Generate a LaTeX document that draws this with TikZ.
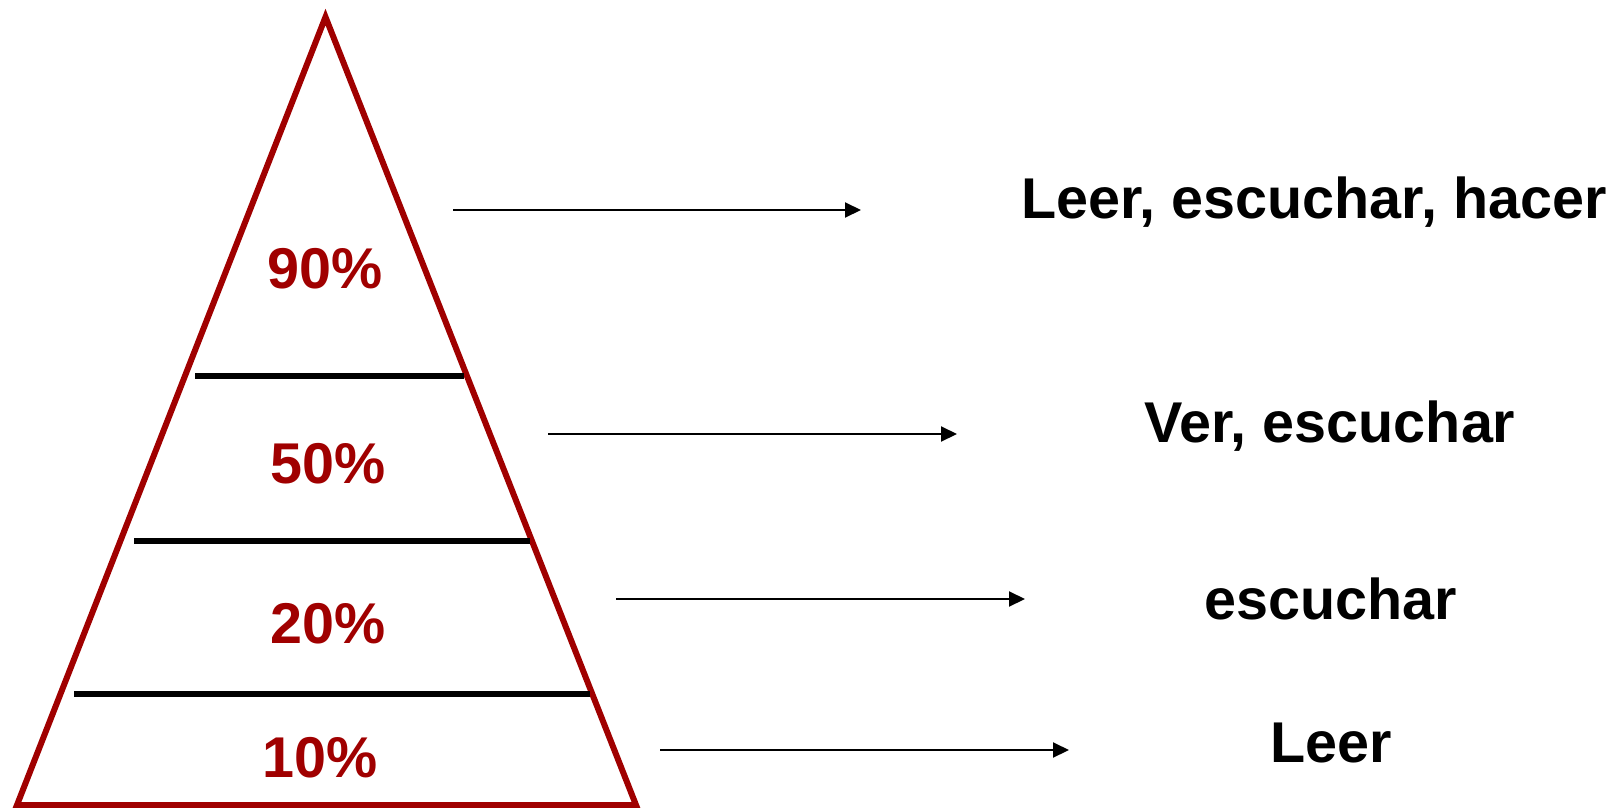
\documentclass[tikz,border=0pt]{standalone}
\usepackage{fontspec}
\setmainfont{Liberation Sans}
\usetikzlibrary{arrows.meta}
\definecolor{pyrred}{RGB}{160,0,0}
\begin{document}
\begin{tikzpicture}[x=1pt,y=-1pt,
  edge/.style={draw=pyrred,line width=6pt,line join=miter},
  band/.style={draw=black,line width=5.5pt},
  pct/.style={anchor=base,inner sep=0pt,text=pyrred,font=\bfseries\fontsize{57.5}{60}\selectfont},
  lbl/.style={anchor=base,inner sep=0pt,text=black,font=\bfseries\fontsize{57.5}{60}\selectfont},
  arr/.style={draw=black,line width=2pt,-{Triangle[length=16pt,width=15pt]}}]
\useasboundingbox (0,0) rectangle (1619,808);
% pyramid
\coordinate (top) at (325.5,17);
\coordinate (bl) at (17,805);
\coordinate (br) at (636,805);
\draw[edge] (top) -- (br) -- (bl) -- cycle;
% band lines
\coordinate (l1a) at (195,376); \coordinate (l1b) at (464,376);
\coordinate (l2a) at (134,541); \coordinate (l2b) at (530,541);
\coordinate (l3a) at (74,694);  \coordinate (l3b) at (590,694);
\draw[band] (l1a) -- (l1b);
\draw[band] (l2a) -- (l2b);
\draw[band] (l3a) -- (l3b);
% percentages
\node[pct] (p90) at (325.5,288) {90\%};
\node[pct] (p50) at (328,483) {50\%};
\node[pct] (p20) at (328,643) {20\%};
\node[pct] (p10) at (320,777) {10\%};
% labels
\node[lbl] (t1) at (1314,218) {Leer, escuchar, hacer};
\node[lbl] (t2) at (1330,442) {Ver, escuchar};
\node[lbl] (t3) at (1331,619) {escuchar};
\node[lbl] (t4) at (1331,762) {Leer};
% arrows
\coordinate (a1s) at (453,210); \coordinate (a1e) at (861,210);
\coordinate (a2s) at (548,434); \coordinate (a2e) at (957,434);
\coordinate (a3s) at (616,599); \coordinate (a3e) at (1025,599);
\coordinate (a4s) at (660,750); \coordinate (a4e) at (1069,750);
\draw[arr] (a1s) -- (a1e);
\draw[arr] (a2s) -- (a2e);
\draw[arr] (a3s) -- (a3e);
\draw[arr] (a4s) -- (a4e);
\end{tikzpicture}
\end{document}
